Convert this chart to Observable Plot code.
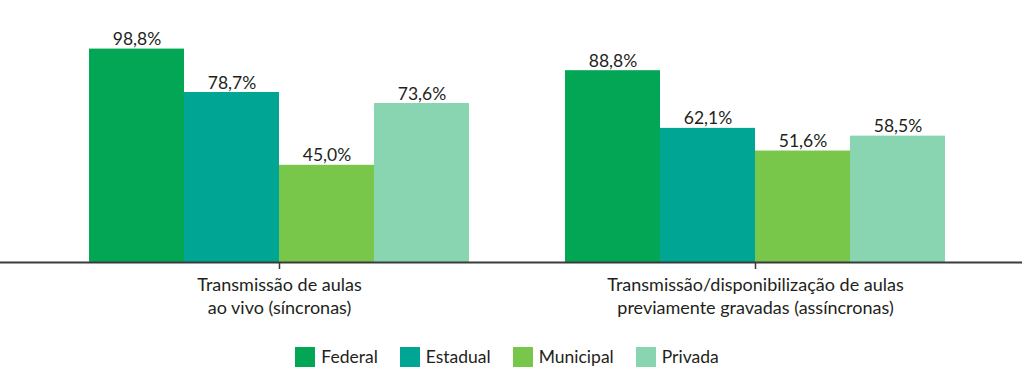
<!DOCTYPE html>
<html>
<head>
<meta charset="utf-8">
<script src="https://cdn.jsdelivr.net/npm/d3@7"></script>
<script src="https://cdn.jsdelivr.net/npm/@observablehq/plot@0.6"></script>
<style>
  html, body { margin: 0; padding: 0; background: #fff; }
  body { width: 1022px; font-family: Lato, "Noto Sans", sans-serif; color: #231f20; }
  #legend { display: flex; justify-content: center; align-items: center; margin-top: 21px; margin-left: -8px; font-size: 17.5px; }
  #legend .item { display: flex; align-items: center; margin: 0 11px; }
  #legend .sw { width: 20px; height: 20px; margin-right: 6px; }
</style>
</head>
<body>
<div id="chart"></div>
<div id="legend"></div>
<script>
const groups = ["Transmissão de aulas\nao vivo (síncronas)", "Transmissão/disponibilização de aulas\npreviamente gravadas (assíncronas)"];
const networks = ["Federal", "Estadual", "Municipal", "Privada"];
const colors = ["#02a654", "#00a593", "#79c74a", "#89d4b1"];
const sincronas = [98.8, 78.7, 45.0, 73.6];
const assincronas = [88.8, 62.1, 51.6, 58.5];

const data = [];
networks.forEach((n, i) => {
  data.push({group: groups[0], network: n, value: sincronas[i]});
  data.push({group: groups[1], network: n, value: assincronas[i]});
});

const fmt = v => v.toFixed(1).replace(".", ",") + "%";

const chart = Plot.plot({
  width: 1022,
  height: 325,
  marginTop: 46,
  marginBottom: 63,
  marginLeft: 41,
  marginRight: 29,
  style: {fontFamily: "Lato, 'Noto Sans', sans-serif", color: "#231f20", background: "#fff"},
  fx: {domain: groups, paddingInner: 0, paddingOuter: 0, label: null},
  x: {domain: networks, paddingInner: 0, paddingOuter: 0.49, axis: null},
  y: {domain: [0, 100], axis: null},
  color: {domain: networks, range: colors},
  marks: [
    Plot.barY(data, {fx: "group", x: "network", y: "value", fill: "network"}),
    Plot.text(data, {fx: "group", x: "network", y: "value", text: d => fmt(d.value), lineAnchor: "bottom", dy: -4, fontSize: 17.5, fill: "#231f20"}),
    Plot.ruleY([{g: groups[0]}], {fx: "g", y: 0, stroke: "#3a3a3a", strokeWidth: 2, insetLeft: -45, insetRight: 0}),
    Plot.ruleY([{g: groups[1]}], {fx: "g", y: 0, stroke: "#3a3a3a", strokeWidth: 2, insetLeft: 0, insetRight: -35}),
    Plot.axisFx({anchor: "bottom", tickSize: 7, tickPadding: 6, fontSize: 18, lineHeight: 1.25, stroke: "#3a3a3a", strokeWidth: 1.5, fill: "#231f20", label: null})
  ]
});
document.getElementById("chart").appendChild(chart);

const legend = d3.select("#legend");
networks.forEach((n, i) => {
  const item = legend.append("div").attr("class", "item");
  item.append("div").attr("class", "sw").style("background", colors[i]);
  item.append("span").text(n);
});
</script>
</body>
</html>
